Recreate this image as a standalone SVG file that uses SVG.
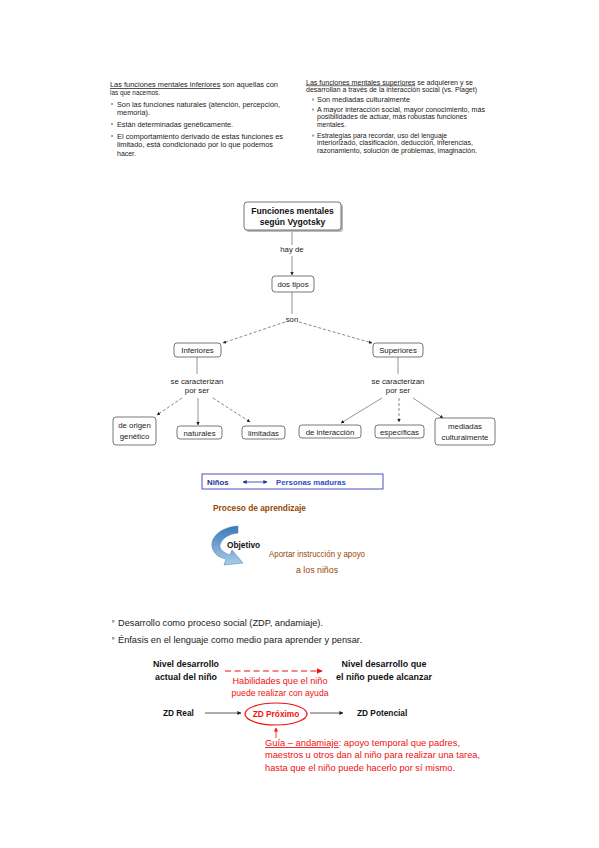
<svg xmlns="http://www.w3.org/2000/svg" width="599" height="848" viewBox="0 0 599 848">
<defs>
<style>
.t{font-family:"Liberation Sans",Arial,sans-serif;fill:#1a1a1a;font-size:7.4px}
.tr{font-family:"Liberation Sans",Arial,sans-serif;fill:#1a1a1a;font-size:6.6px}
.m{font-family:"Liberation Sans",Arial,sans-serif;fill:#222;font-size:7.8px}
.mb{font-family:"Liberation Sans",Arial,sans-serif;fill:#111;font-size:8.6px;font-weight:bold}
.box{fill:#fff;stroke:#555;stroke-width:0.8}
.shadow{fill:#bbb}
.ln{stroke:#666;stroke-width:0.7;fill:none}
.dash{stroke:#555;stroke-width:0.7;fill:none;stroke-dasharray:3 2}
.b{font-family:"Liberation Sans",Arial,sans-serif;font-weight:bold;font-size:8.3px;fill:#111}
.br{font-family:"Liberation Sans",Arial,sans-serif;font-size:8.8px;fill:#974806}
.red{font-family:"Liberation Sans",Arial,sans-serif;font-size:8.8px;fill:#f01010}
.sq{fill:#9aa}
</style>
<marker id="ah" viewBox="0 0 10 10" refX="9" refY="5" markerWidth="5" markerHeight="5" orient="auto"><path d="M0,0 L10,5 L0,10 z" fill="#222"/></marker>
<marker id="ahr" viewBox="0 0 10 10" refX="9" refY="5" markerWidth="5" markerHeight="5" orient="auto"><path d="M0,0 L10,5 L0,10 z" fill="#f01010"/></marker>
<marker id="ahb" viewBox="0 0 10 10" refX="9" refY="5" markerWidth="5" markerHeight="5" orient="auto-start-reverse"><path d="M0,0 L10,5 L0,10 z" fill="#2030a0"/></marker>
<linearGradient id="bg" x1="0" y1="0" x2="0" y2="1"><stop offset="0" stop-color="#3a78b8"/><stop offset="1" stop-color="#a9cdea"/></linearGradient>
</defs>
<rect width="599" height="848" fill="#fff"/>

<g id="textLeft">
<text class="t" x="110" y="87" textLength="168" lengthAdjust="spacingAndGlyphs"><tspan text-decoration="underline">Las funciones mentales inferiores</tspan> son aquellas con</text>
<text class="t" x="110" y="95" textLength="50" lengthAdjust="spacingAndGlyphs">las que nacemos.</text>
<rect class="sq" x="111" y="103" width="2" height="2"/>
<text class="t" x="117" y="107" textLength="163" lengthAdjust="spacingAndGlyphs">Son las funciones naturales (atención, percepción,</text>
<text class="t" x="117" y="115" textLength="33" lengthAdjust="spacingAndGlyphs">memoria).</text>
<rect class="sq" x="111" y="123" width="2" height="2"/>
<text class="t" x="117" y="127" textLength="116" lengthAdjust="spacingAndGlyphs">Están determinadas genéticamente.</text>
<rect class="sq" x="111" y="135" width="2" height="2"/>
<text class="t" x="117" y="139" textLength="166" lengthAdjust="spacingAndGlyphs">El comportamiento derivado de estas funciones es</text>
<text class="t" x="117" y="147" textLength="156" lengthAdjust="spacingAndGlyphs">limitado, está condicionado por lo que podemos</text>
<text class="t" x="117" y="156" textLength="19" lengthAdjust="spacingAndGlyphs">hacer.</text>
</g>

<g id="textRight">
<text class="tr" x="306" y="84.5" textLength="167" lengthAdjust="spacingAndGlyphs"><tspan text-decoration="underline">Las funciones mentales superiores</tspan> se adquieren y se</text>
<text class="tr" x="306" y="92" textLength="171" lengthAdjust="spacingAndGlyphs">desarrollan a través de la interacción social (vs. Piaget)</text>
<rect class="sq" x="312" y="98.5" width="2" height="2"/>
<text class="tr" x="317" y="101.5" textLength="93" lengthAdjust="spacingAndGlyphs">Son mediadas culturalmente</text>
<rect class="sq" x="312" y="108.5" width="2" height="2"/>
<text class="tr" x="317" y="111.5" textLength="168" lengthAdjust="spacingAndGlyphs">A  mayor interacción social, mayor conocimiento, más</text>
<text class="tr" x="317" y="119" textLength="150" lengthAdjust="spacingAndGlyphs">posibilidades de actuar, más robustas funciones</text>
<text class="tr" x="317" y="126.5" textLength="29" lengthAdjust="spacingAndGlyphs">mentales.</text>
<rect class="sq" x="312" y="134.5" width="2" height="2"/>
<text class="tr" x="317" y="137.5" textLength="130" lengthAdjust="spacingAndGlyphs">Estrategias para recordar, uso del lenguaje</text>
<text class="tr" x="317" y="145" textLength="156" lengthAdjust="spacingAndGlyphs">interiorizado, clasificación, deducción, inferencias,</text>
<text class="tr" x="317" y="152.5" textLength="160" lengthAdjust="spacingAndGlyphs">razonamiento, solución de problemas, imaginación.</text>
</g>

<g id="connectors">
<line class="ln" x1="292" y1="230" x2="292" y2="245"/>
<text class="m" x="292" y="252" text-anchor="middle">hay de</text>
<line class="ln" x1="292" y1="256" x2="292" y2="275" marker-end="url(#ah)"/>
<line class="ln" x1="292" y1="292" x2="292" y2="314"/>
<text class="m" x="292" y="322" text-anchor="middle">son</text>
<line class="dash" x1="285" y1="322" x2="223" y2="343" marker-end="url(#ah)"/>
<line class="dash" x1="299" y1="322" x2="372" y2="343" marker-end="url(#ah)"/>
<line class="ln" x1="197" y1="357" x2="197" y2="374"/>
<text class="m" x="197" y="384" text-anchor="middle">se caracterizan</text>
<text class="m" x="197" y="393" text-anchor="middle">por ser</text>
<line class="dash" x1="182" y1="398" x2="157" y2="415" marker-end="url(#ah)"/>
<line class="ln" x1="198" y1="398" x2="198" y2="425" marker-end="url(#ah)"/>
<line class="dash" x1="213" y1="398" x2="250" y2="422" marker-end="url(#ah)"/>
<line class="ln" x1="398" y1="357" x2="398" y2="374"/>
<text class="m" x="398" y="384" text-anchor="middle">se caracterizan</text>
<text class="m" x="398" y="393" text-anchor="middle">por ser</text>
<line class="ln" x1="382" y1="398" x2="341" y2="423" marker-end="url(#ah)"/>
<line class="dash" x1="399" y1="398" x2="399" y2="422" marker-end="url(#ah)"/>
<line class="ln" x1="413" y1="398" x2="443" y2="418" marker-end="url(#ah)"/>
</g>

<g id="title">
<rect class="shadow" x="246" y="204" width="97" height="28" rx="3"/>
<rect class="box" x="244" y="202" width="97" height="28" rx="3"/>
<text class="mb" x="292.5" y="214" text-anchor="middle">Funciones mentales</text>
<text class="mb" x="292.5" y="225" text-anchor="middle">según Vygotsky</text>
</g>
<g id="dostipos">
<rect class="box" x="272" y="276" width="42" height="16" rx="3"/>
<text class="m" x="293" y="287" text-anchor="middle">dos tipos</text>
</g>
<g id="inferiores">
<rect class="box" x="174" y="343" width="47" height="14" rx="3"/>
<text class="m" x="197.5" y="353" text-anchor="middle">Inferiores</text>
</g>
<g id="superiores">
<rect class="box" x="373" y="343" width="50" height="14" rx="3"/>
<text class="m" x="398" y="353" text-anchor="middle">Superiores</text>
</g>
<g id="origen">
<rect class="box" x="113" y="417" width="43" height="28" rx="3"/>
<text class="m" x="134.5" y="428" text-anchor="middle">de origen</text>
<text class="m" x="134.5" y="439" text-anchor="middle">genético</text>
</g>
<g id="naturales">
<rect class="box" x="177" y="426" width="45" height="13" rx="3"/>
<text class="m" x="199.5" y="435.5" text-anchor="middle">naturales</text>
</g>
<g id="limitadas">
<rect class="box" x="242" y="426" width="43" height="13" rx="3"/>
<text class="m" x="263.5" y="435.5" text-anchor="middle">limitadas</text>
</g>
<g id="interaccion">
<rect class="box" x="299" y="425" width="62" height="13" rx="3"/>
<text class="m" x="330" y="434.5" text-anchor="middle">de interacción</text>
</g>
<g id="especificas">
<rect class="box" x="375" y="425" width="49" height="13" rx="3"/>
<text class="m" x="399.5" y="434.5" text-anchor="middle">específicas</text>
</g>
<g id="mediadas">
<rect class="box" x="435" y="418" width="60" height="27" rx="3"/>
<text class="m" x="465" y="429" text-anchor="middle">mediadas</text>
<text class="m" x="465" y="440" text-anchor="middle">culturalmente</text>
</g>

<g id="ninos">
<rect x="202" y="474" width="181" height="15" fill="#fff" stroke="#5050c0" stroke-width="1"/>
<text x="207" y="484.5" font-family="'Liberation Sans',Arial,sans-serif" font-size="7.8" font-weight="bold" fill="#1f2f90">Niños</text>
<line x1="243" y1="482" x2="267" y2="482" stroke="#2030a0" stroke-width="0.8" marker-start="url(#ahb)" marker-end="url(#ahb)"/>
<text x="276" y="484.5" font-family="'Liberation Sans',Arial,sans-serif" font-size="7.8" font-weight="bold" fill="#2f4fc0">Personas maduras</text>
</g>

<g id="proceso">
<text class="br" x="213" y="511" font-weight="bold" textLength="93" lengthAdjust="spacingAndGlyphs">Proceso de aprendizaje</text>
<path d="M238,526 C221,527 208,538 213,550 C216,556 221,558 226,559 L224,565 L243,563 L232,550 L230,555 C224,553 219,549 220,545 C222,538 229,534 238,533 Z" fill="url(#bg)" stroke="#4a7ab0" stroke-width="0.5"/>
<text class="b" x="227" y="548">Objetivo</text>
<text class="br" x="269" y="557" textLength="96" lengthAdjust="spacingAndGlyphs">Aportar instrucción y apoyo</text>
<text class="br" x="317" y="573" text-anchor="middle">a los niños</text>
</g>

<g id="bullets2">
<rect class="sq" x="112" y="620" width="2.5" height="2.5"/>
<text x="118" y="626" font-family="'Liberation Sans',Arial,sans-serif" font-size="8.8" fill="#1a1a1a" textLength="205" lengthAdjust="spacingAndGlyphs">Desarrollo como proceso social (ZDP, andamiaje).</text>
<rect class="sq" x="112" y="637" width="2.5" height="2.5"/>
<text x="118" y="643" font-family="'Liberation Sans',Arial,sans-serif" font-size="8.8" fill="#1a1a1a" textLength="244" lengthAdjust="spacingAndGlyphs">Énfasis en el lenguaje como medio para aprender y pensar.</text>
</g>

<g id="zdp">
<text class="b" x="186" y="667" text-anchor="middle" textLength="66" lengthAdjust="spacingAndGlyphs">Nivel desarrollo</text>
<text class="b" x="186" y="680" text-anchor="middle" textLength="62" lengthAdjust="spacingAndGlyphs">actual del niño</text>
<text class="b" x="384" y="667" text-anchor="middle" textLength="85" lengthAdjust="spacingAndGlyphs">Nivel desarrollo que</text>
<text class="b" x="384" y="680" text-anchor="middle" textLength="96" lengthAdjust="spacingAndGlyphs">el niño puede alcanzar</text>
<line x1="225" y1="671" x2="322" y2="671" stroke="#f01010" stroke-width="1.2" stroke-dasharray="6 3.5" marker-end="url(#ahr)"/>
<text class="red" x="280" y="684" text-anchor="middle" textLength="95" lengthAdjust="spacingAndGlyphs">Habilidades que el niño</text>
<text class="red" x="280" y="696" text-anchor="middle" textLength="97" lengthAdjust="spacingAndGlyphs">puede realizar con ayuda</text>
<text class="b" x="163" y="716">ZD Real</text>
<line x1="205" y1="713" x2="241" y2="713" stroke="#333" stroke-width="0.8" marker-end="url(#ah)"/>
<ellipse cx="276" cy="714" rx="31" ry="11" fill="#fff" stroke="#f01010" stroke-width="1.2"/>
<text class="b" x="276" y="717" text-anchor="middle" style="fill:#f01010">ZD Próximo</text>
<line x1="310" y1="713" x2="343" y2="713" stroke="#333" stroke-width="0.8" marker-end="url(#ah)"/>
<text class="b" x="357" y="716">ZD Potencial</text>
<line x1="276" y1="738" x2="276" y2="728" stroke="#f01010" stroke-width="0.8" marker-end="url(#ahr)"/>
<text class="red" x="265" y="746" textLength="195" lengthAdjust="spacingAndGlyphs"><tspan text-decoration="underline">Guía – andamiaje</tspan>: apoyo temporal que padres,</text>
<text class="red" x="265" y="758" textLength="215" lengthAdjust="spacingAndGlyphs">maestros u otros dan al niño para realizar una tarea,</text>
<text class="red" x="265" y="771" textLength="190" lengthAdjust="spacingAndGlyphs">hasta que el niño puede hacerlo por sí mismo.</text>
</g>
</svg>
